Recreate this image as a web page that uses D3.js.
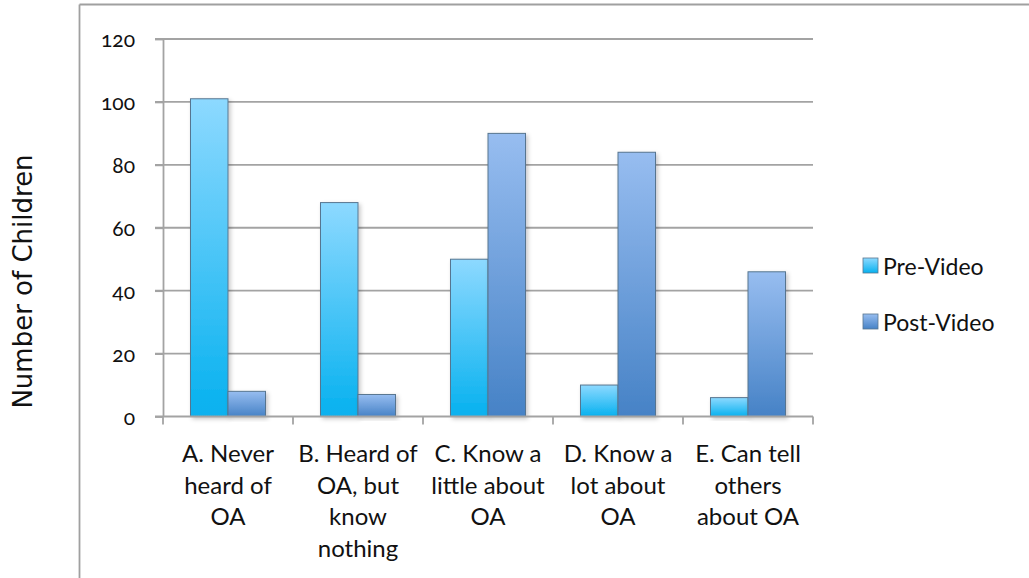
<!DOCTYPE html>
<html>
<head>
<meta charset="utf-8">
<script src="https://cdn.jsdelivr.net/npm/d3@7"></script>
<style>
  html, body { margin: 0; padding: 0; background: #fff; }
  svg { display: block; }
  .lbl { font-family: "Lato", "Open Sans", sans-serif; fill: #111; }
</style>
</head>
<body>
<svg id="chart" width="1029" height="578"></svg>
<script>
// Awareness of OA among children, before and after watching the video
const categories = [
  ["A. Never", "heard of", "OA"],
  ["B. Heard of", "OA, but", "know", "nothing"],
  ["C. Know a", "little about", "OA"],
  ["D. Know a", "lot about", "OA"],
  ["E. Can tell", "others", "about OA"]
];
const seriesNames = ["Pre-Video", "Post-Video"];
const preVideo = [101, 68, 50, 10, 6];
const postVideo = [8, 7, 90, 84, 46];
const yTicks = [0, 20, 40, 60, 80, 100, 120];
const yTitle = "Number of Children";

const svg = d3.select("#chart");
const W = 1029, H = 578;

const plot = { left: 163, right: 813, top: 39, bottom: 416.5 };
const gridColor = "#a3a3a3";

const defs = svg.append("defs");
const gradStops = [
  ["gradPre", "#8dd9ff", "#06b1ef"],
  ["gradPost", "#97bdf0", "#4682c6"]
];
gradStops.forEach(([id, top, bottom]) => {
  const g = defs.append("linearGradient").attr("id", id)
    .attr("x1", 0).attr("y1", 0).attr("x2", 0).attr("y2", 1);
  g.append("stop").attr("offset", "0%").attr("stop-color", top);
  g.append("stop").attr("offset", "100%").attr("stop-color", bottom);
});
const shadow = defs.append("filter").attr("id", "barShadow")
  .attr("x", "-20%").attr("y", "-10%").attr("width", "150%").attr("height", "130%");
shadow.append("feDropShadow").attr("dx", 2).attr("dy", 2)
  .attr("stdDeviation", 2.2).attr("flood-color", "#000").attr("flood-opacity", 0.22);

// Chart-area frame (open to the right and bottom edges of the page)
svg.append("line").attr("x1", 79.5).attr("y1", 4.5).attr("x2", W).attr("y2", 4.5)
  .attr("stroke", "#a0a0a0").attr("stroke-width", 1.8);
svg.append("line").attr("x1", 79.5).attr("y1", 4.5).attr("x2", 79.5).attr("y2", H)
  .attr("stroke", "#a0a0a0").attr("stroke-width", 1.8);

const keys = categories.map((c, i) => i);
const x0 = d3.scaleBand().domain(keys).range([plot.left, plot.right]).padding(0);
const x1 = d3.scaleBand().domain(seriesNames)
  .range([0, x0.bandwidth()]).paddingInner(0).paddingOuter(0.733);
const y = d3.scaleLinear().domain([0, 120]).range([plot.bottom, plot.top]);

// Horizontal gridlines with their left tick marks
svg.append("g").selectAll("line").data(yTicks.filter(t => t > 0)).join("line")
  .attr("x1", plot.left - 8).attr("x2", plot.right)
  .attr("y1", d => y(d)).attr("y2", d => y(d))
  .attr("stroke", gridColor).attr("stroke-width", 1.8);

// Y axis
const yAxis = svg.append("g").attr("transform", `translate(${plot.left},0)`)
  .call(d3.axisLeft(y).tickValues(yTicks).tickSize(8).tickPadding(20).tickSizeOuter(0));
yAxis.select(".domain").attr("stroke", gridColor).attr("stroke-width", 1.8);
yAxis.selectAll(".tick line").attr("stroke", gridColor).attr("stroke-width", 1.8);
yAxis.selectAll(".tick text")
  .attr("class", "lbl")
  .style("font-size", "21px")
  .style("font-feature-settings", "'onum' 1")
  .attr("dy", "0.36em");

// Bars
const data = keys.map(i => ({ i, vals: [preVideo[i], postVideo[i]] }));
const grp = svg.append("g").selectAll("g").data(data).join("g")
  .attr("transform", d => `translate(${x0(d.i)},0)`);
grp.selectAll("rect").data(d => d.vals.map((v, s) => ({ v, s }))).join("rect")
  .attr("x", d => x1(seriesNames[d.s]))
  .attr("width", x1.bandwidth())
  .attr("y", d => y(d.v))
  .attr("height", d => y(0) - y(d.v))
  .attr("fill", d => d.s === 0 ? "url(#gradPre)" : "url(#gradPost)")
  .attr("stroke", "#587690").attr("stroke-width", 1)
  .attr("filter", "url(#barShadow)");

// X axis line and category boundary ticks
const xAxis = svg.append("g").attr("transform", `translate(0,${plot.bottom})`);
xAxis.append("line").attr("x1", plot.left - 8).attr("x2", plot.right)
  .attr("stroke", gridColor).attr("stroke-width", 1.8);
const bounds = keys.map(i => x0(i)).concat([plot.right]);
xAxis.selectAll("line.tk").data(bounds).join("line").attr("class", "tk")
  .attr("x1", d => d).attr("x2", d => d).attr("y1", 0).attr("y2", 8)
  .attr("stroke", gridColor).attr("stroke-width", 1.8);

// Category labels (multi-line)
const lab = svg.append("g").selectAll("text").data(data).join("text")
  .attr("class", "lbl")
  .attr("text-anchor", "middle")
  .style("font-size", "24px")
  .attr("x", d => x0(d.i) + x0.bandwidth() / 2)
  .attr("y", 462);
lab.selectAll("tspan").data(d => categories[d.i]).join("tspan")
  .attr("x", function () { return d3.select(this.parentNode).attr("x"); })
  .attr("dy", (d, k) => k === 0 ? 0 : 31.7)
  .text(d => d);

// Y axis title
svg.append("text")
  .attr("transform", "translate(32,281.5) rotate(-90)")
  .attr("text-anchor", "middle")
  .style("font-family", "'DejaVu Sans', sans-serif")
  .style("font-size", "26px")
  .attr("fill", "#111")
  .text(yTitle);

// Legend
const legend = svg.append("g").selectAll("g").data(seriesNames).join("g")
  .attr("transform", (d, k) => `translate(863,${258 + k * 56})`);
legend.append("rect").attr("width", 15).attr("height", 15)
  .attr("fill", (d, k) => k === 0 ? "url(#gradPre)" : "url(#gradPost)")
  .attr("stroke", "#587690").attr("stroke-width", 0.8);
legend.append("text").attr("class", "lbl")
  .attr("x", 20).attr("y", 16.5)
  .style("font-size", "23px")
  .text(d => d);
</script>
</body>
</html>
